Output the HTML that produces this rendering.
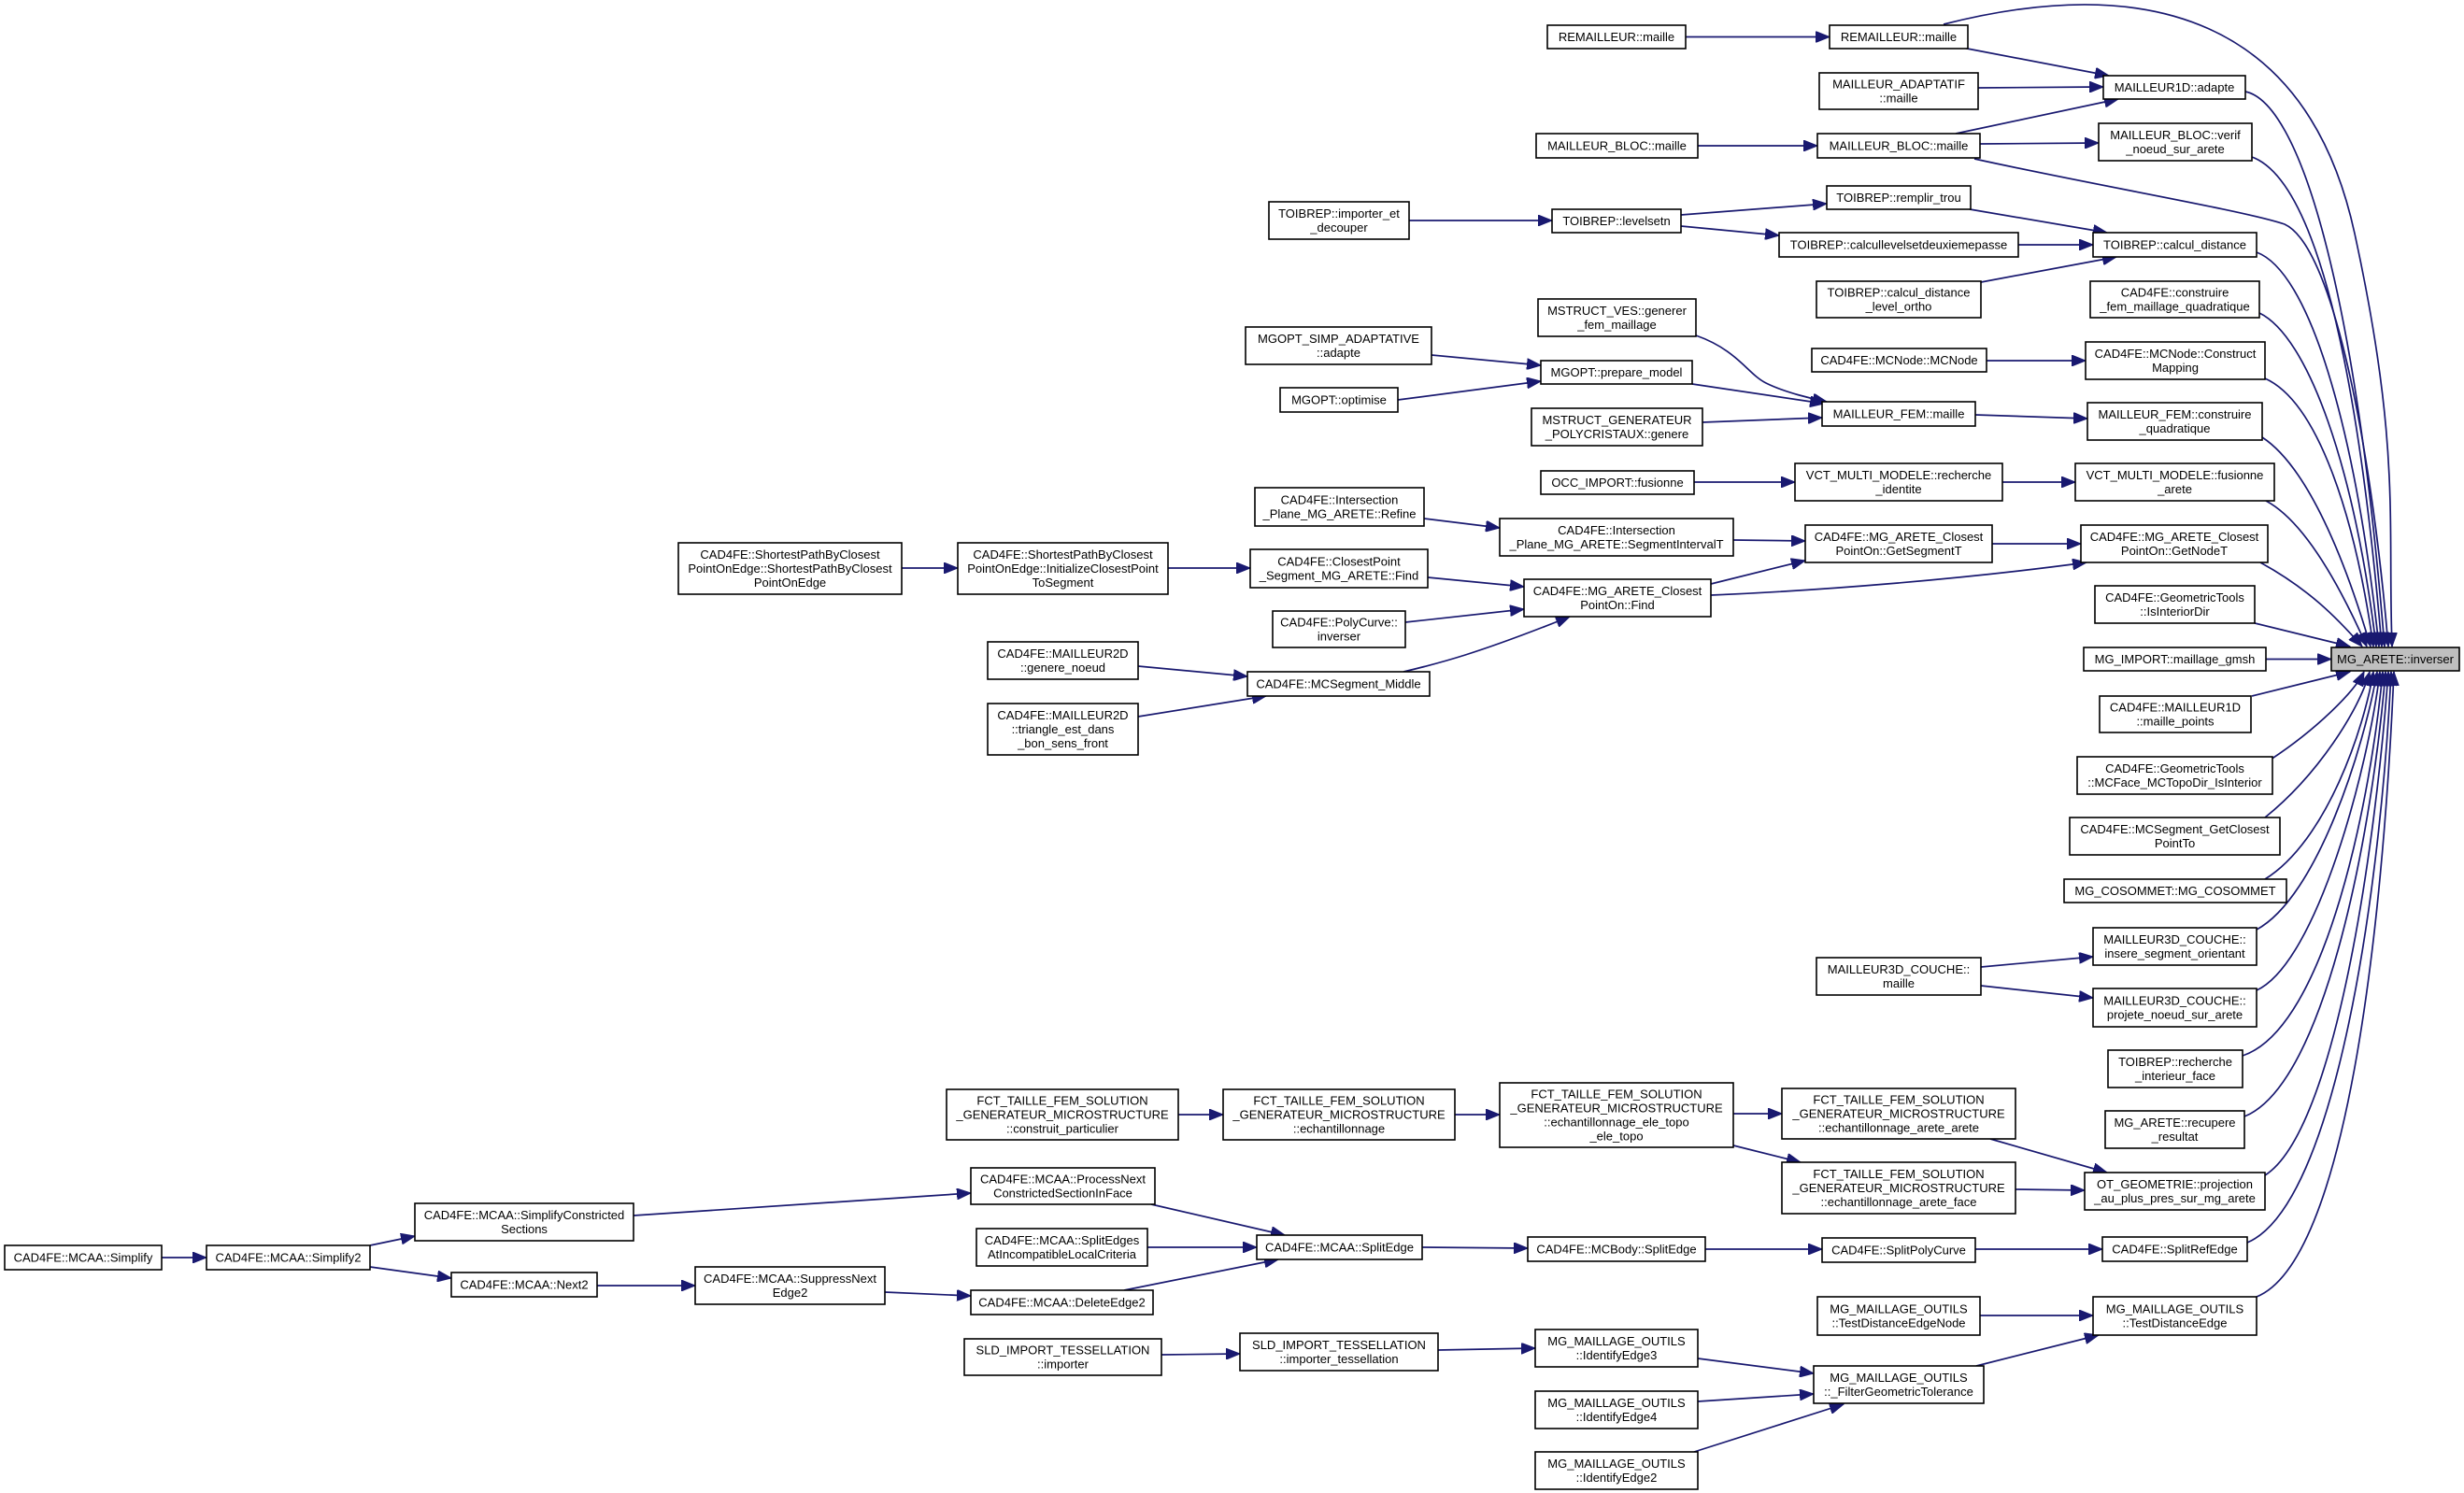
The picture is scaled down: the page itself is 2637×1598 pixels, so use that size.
<!DOCTYPE html>
<html><head><meta charset="utf-8"><style>
html,body{margin:0;padding:0;background:#fff}
svg{display:block}
text{font-family:"Liberation Sans",Arial,sans-serif;font-size:13px;fill:#000;text-anchor:middle}
.n{fill:#fff;stroke:#000;stroke-width:1.6}
.e{fill:none;stroke:#191970;stroke-width:1.7;marker-end:url(#a)}
</style></head><body>
<svg width="2637" height="1598" viewBox="0 0 2637 1598" xmlns="http://www.w3.org/2000/svg">
<defs><marker id="a" markerUnits="userSpaceOnUse" markerWidth="16" markerHeight="12" refX="15" refY="6" orient="auto"><path d="M0,0 L15,6 L0,12 z" fill="#191970" stroke="#191970"/></marker></defs>

<!-- edges -->
<path class="e" d="M1804,39.5 L1958,39.5"/>
<path class="e" d="M2100,51 L2257,81"/>
<path class="e" d="M2080,26 C2300,-30 2470,20 2520,250 S2555,560 2560,692"/>
<path class="e" d="M2117,94 L2251,93"/>
<path class="e" d="M2093,143 L2267,106"/>
<path class="e" d="M1817,156 L1945,156"/>
<path class="e" d="M2119,154 L2246,153"/>
<path class="e" d="M2113,170 C2250,200 2400,225 2445,240 C2500,265 2540,500 2556,692"/>
<path class="e" d="M2403,98 C2460,110 2520,300 2552,692"/>
<path class="e" d="M2410,168 C2470,190 2520,350 2549,692"/>
<path class="e" d="M1508,236 L1661,236"/>
<path class="e" d="M1799,230 L1955,218"/>
<path class="e" d="M1799,242 L1904,252"/>
<path class="e" d="M2108,224 L2255,249"/>
<path class="e" d="M2160,262 L2240,262"/>
<path class="e" d="M2120,302 L2265,275"/>
<path class="e" d="M2415,270 C2470,290 2520,450 2546,692"/>
<path class="e" d="M2418,335 C2470,360 2520,500 2543,692"/>
<path class="e" d="M1815,359 C1860,375 1870,400 1890,410 C1910,420 1940,427 1955,430"/>
<path class="e" d="M1532,380 L1649,391"/>
<path class="e" d="M1496,428 L1649,408"/>
<path class="e" d="M1811,411 L1952,432"/>
<path class="e" d="M1822,452 L1950,447"/>
<path class="e" d="M2114,444 L2234,448"/>
<path class="e" d="M2126,386 L2232,386"/>
<path class="e" d="M2424,405 C2480,430 2520,550 2540,692"/>
<path class="e" d="M2421,468 C2470,500 2510,600 2537,692"/>
<path class="e" d="M1813,516 L1921,516"/>
<path class="e" d="M2143,516 L2221,516"/>
<path class="e" d="M2425,536 C2470,560 2510,640 2533,692"/>
<path class="e" d="M1524,555 L1605,565"/>
<path class="e" d="M965,608 L1025,608"/>
<path class="e" d="M1250,608 L1338,608"/>
<path class="e" d="M1855,578 L1932,579"/>
<path class="e" d="M1528,618 L1631,628"/>
<path class="e" d="M1504,666 L1631,652"/>
<path class="e" d="M1502,719 C1540,710 1580,700 1680,660"/>
<path class="e" d="M1831,625 L1932,600"/>
<path class="e" d="M1831,637 C1950,632 2100,620 2233,602"/>
<path class="e" d="M2132,582 L2227,582"/>
<path class="e" d="M2419,602 C2470,630 2500,660 2528,692"/>
<path class="e" d="M1218,713 L1335,724"/>
<path class="e" d="M1218,767 L1355,745"/>
<path class="e" d="M2413,667 L2515,692"/>
<path class="e" d="M2425,705.5 L2495,705.5"/>
<path class="e" d="M2410,745 L2515,719"/>
<path class="e" d="M2430,813 C2480,780 2520,740 2530,719"/>
<path class="e" d="M2424,875 C2480,830 2525,760 2536,719"/>
<path class="e" d="M2424,941 C2490,900 2530,780 2540,719"/>
<path class="e" d="M2415,995 C2480,960 2530,800 2544,719"/>
<path class="e" d="M2415,1060 C2480,1030 2535,820 2547,719"/>
<path class="e" d="M2400,1130 C2490,1100 2538,850 2550,719"/>
<path class="e" d="M2402,1195 C2490,1160 2540,880 2553,719"/>
<path class="e" d="M2424,1258 C2500,1210 2543,900 2556,719"/>
<path class="e" d="M2405,1330 C2500,1290 2548,950 2559,719"/>
<path class="e" d="M2415,1388 C2510,1350 2550,1000 2562,719"/>
<path class="e" d="M2120,1035 L2240,1024"/>
<path class="e" d="M2120,1055 L2240,1068"/>
<path class="e" d="M1261,1193 L1309,1193"/>
<path class="e" d="M1557,1193 L1605,1193"/>
<path class="e" d="M1855,1192 L1907,1192"/>
<path class="e" d="M1855,1226 L1927,1244"/>
<path class="e" d="M2130,1219 L2255,1255"/>
<path class="e" d="M2157,1273 L2231,1274"/>
<path class="e" d="M173,1346 L221,1346"/>
<path class="e" d="M396,1333 L444,1323"/>
<path class="e" d="M396,1356 L483,1368"/>
<path class="e" d="M678,1301 L1039,1277"/>
<path class="e" d="M639,1376 L744,1376"/>
<path class="e" d="M947,1383 L1039,1387"/>
<path class="e" d="M1232,1289 L1375,1322"/>
<path class="e" d="M1228,1335 L1345,1335"/>
<path class="e" d="M1203,1381 L1368,1348"/>
<path class="e" d="M1521,1335 L1635,1336"/>
<path class="e" d="M1825,1337 L1950,1337"/>
<path class="e" d="M2114,1337 L2250,1337"/>
<path class="e" d="M1243,1450 L1327,1449"/>
<path class="e" d="M1539,1445 L1643,1443"/>
<path class="e" d="M1817,1454 L1941,1470"/>
<path class="e" d="M1817,1500 L1941,1492"/>
<path class="e" d="M1813,1554 L1973,1503"/>
<path class="e" d="M2119,1408 L2240,1408"/>
<path class="e" d="M2115,1462 L2246,1429"/>

<!-- nodes -->
<rect class="n" x="1656" y="27" width="148" height="25"/><text x="1730" y="44">REMAILLEUR::maille</text>
<rect class="n" x="1958" y="27" width="148" height="25"/><text x="2032" y="44">REMAILLEUR::maille</text>
<rect class="n" x="1947" y="78" width="170" height="39"/><text x="2032" y="94.5">MAILLEUR_ADAPTATIF</text><text x="2032" y="109.5">::maille</text>
<rect class="n" x="2251" y="81" width="152" height="25"/><text x="2327" y="98">MAILLEUR1D::adapte</text>
<rect class="n" x="1644" y="143" width="173" height="26"/><text x="1730.5" y="160.5">MAILLEUR_BLOC::maille</text>
<rect class="n" x="1945" y="143" width="174" height="26"/><text x="2032" y="160.5">MAILLEUR_BLOC::maille</text>
<rect class="n" x="2246" y="132" width="164" height="40"/><text x="2328" y="149">MAILLEUR_BLOC::verif</text><text x="2328" y="164">_noeud_sur_arete</text>
<rect class="n" x="1955" y="199" width="154" height="25"/><text x="2032" y="216">TOIBREP::remplir_trou</text>
<rect class="n" x="1661" y="224" width="138" height="25"/><text x="1730" y="241">TOIBREP::levelsetn</text>
<rect class="n" x="1904" y="249" width="256" height="26"/><text x="2032" y="266.5">TOIBREP::calcullevelsetdeuxiemepasse</text>
<rect class="n" x="2240" y="249" width="175" height="26"/><text x="2327.5" y="266.5">TOIBREP::calcul_distance</text>
<rect class="n" x="1944" y="301" width="176" height="39"/><text x="2032" y="317.5">TOIBREP::calcul_distance</text><text x="2032" y="332.5">_level_ortho</text>
<rect class="n" x="2237" y="301" width="181" height="39"/><text x="2327.5" y="317.5">CAD4FE::construire</text><text x="2327.5" y="332.5">_fem_maillage_quadratique</text>
<rect class="n" x="1358" y="216" width="150" height="40"/><text x="1433" y="233">TOIBREP::importer_et</text><text x="1433" y="248">_decouper</text>
<rect class="n" x="1646" y="320" width="169" height="40"/><text x="1730.5" y="337">MSTRUCT_VES::generer</text><text x="1730.5" y="352">_fem_maillage</text>
<rect class="n" x="1939" y="373" width="187" height="25"/><text x="2032.5" y="390">CAD4FE::MCNode::MCNode</text>
<rect class="n" x="2232" y="366" width="192" height="40"/><text x="2328" y="383">CAD4FE::MCNode::Construct</text><text x="2328" y="398">Mapping</text>
<rect class="n" x="1333" y="350" width="199" height="40"/><text x="1432.5" y="367">MGOPT_SIMP_ADAPTATIVE</text><text x="1432.5" y="382">::adapte</text>
<rect class="n" x="1649" y="386" width="162" height="25"/><text x="1730" y="403">MGOPT::prepare_model</text>
<rect class="n" x="1370" y="415" width="126" height="26"/><text x="1433" y="432.5">MGOPT::optimise</text>
<rect class="n" x="1950" y="430" width="164" height="26"/><text x="2032" y="447.5">MAILLEUR_FEM::maille</text>
<rect class="n" x="1639" y="437" width="183" height="40"/><text x="1730.5" y="454">MSTRUCT_GENERATEUR</text><text x="1730.5" y="469">_POLYCRISTAUX::genere</text>
<rect class="n" x="2234" y="431" width="187" height="40"/><text x="2327.5" y="448">MAILLEUR_FEM::construire</text><text x="2327.5" y="463">_quadratique</text>
<rect class="n" x="1649" y="504" width="164" height="25"/><text x="1731" y="521">OCC_IMPORT::fusionne</text>
<rect class="n" x="1921" y="496" width="222" height="40"/><text x="2032" y="513">VCT_MULTI_MODELE::recherche</text><text x="2032" y="528">_identite</text>
<rect class="n" x="2221" y="496" width="213" height="40"/><text x="2327.5" y="513">VCT_MULTI_MODELE::fusionne</text><text x="2327.5" y="528">_arete</text>
<rect class="n" x="1343" y="522" width="181" height="41"/><text x="1433.5" y="539.5">CAD4FE::Intersection</text><text x="1433.5" y="554.5">_Plane_MG_ARETE::Refine</text>
<rect class="n" x="1605" y="555" width="250" height="40"/><text x="1730" y="572">CAD4FE::Intersection</text><text x="1730" y="587">_Plane_MG_ARETE::SegmentIntervalT</text>
<rect class="n" x="1932" y="562" width="200" height="40"/><text x="2032" y="579">CAD4FE::MG_ARETE_Closest</text><text x="2032" y="594">PointOn::GetSegmentT</text>
<rect class="n" x="2227" y="562" width="200" height="40"/><text x="2327" y="579">CAD4FE::MG_ARETE_Closest</text><text x="2327" y="594">PointOn::GetNodeT</text>
<rect class="n" x="726" y="581" width="239" height="55"/><text x="845.5" y="598">CAD4FE::ShortestPathByClosest</text><text x="845.5" y="613">PointOnEdge::ShortestPathByClosest</text><text x="845.5" y="628">PointOnEdge</text>
<rect class="n" x="1025" y="581" width="225" height="55"/><text x="1137.5" y="598">CAD4FE::ShortestPathByClosest</text><text x="1137.5" y="613">PointOnEdge::InitializeClosestPoint</text><text x="1137.5" y="628">ToSegment</text>
<rect class="n" x="1338" y="588" width="190" height="41"/><text x="1433" y="605.5">CAD4FE::ClosestPoint</text><text x="1433" y="620.5">_Segment_MG_ARETE::Find</text>
<rect class="n" x="1631" y="620" width="200" height="40"/><text x="1731" y="637">CAD4FE::MG_ARETE_Closest</text><text x="1731" y="652">PointOn::Find</text>
<rect class="n" x="2242" y="627" width="171" height="40"/><text x="2327.5" y="644">CAD4FE::GeometricTools</text><text x="2327.5" y="659">::IsInteriorDir</text>
<rect class="n" x="1362" y="654" width="142" height="39"/><text x="1433" y="670.5">CAD4FE::PolyCurve::</text><text x="1433" y="685.5">inverser</text>
<rect class="n" x="1057" y="687" width="161" height="40"/><text x="1137.5" y="704">CAD4FE::MAILLEUR2D</text><text x="1137.5" y="719">::genere_noeud</text>
<rect class="n" x="2230" y="693" width="195" height="25"/><text x="2327.5" y="710">MG_IMPORT::maillage_gmsh</text>
<rect x="2495" y="693" width="137" height="25" fill="#bfbfbf" stroke="#000" stroke-width="1.6"/><text x="2563.5" y="710">MG_ARETE::inverser</text>
<rect class="n" x="1335" y="719" width="195" height="26"/><text x="1432.5" y="736.5">CAD4FE::MCSegment_Middle</text>
<rect class="n" x="1057" y="753" width="161" height="55"/><text x="1137.5" y="770">CAD4FE::MAILLEUR2D</text><text x="1137.5" y="785">::triangle_est_dans</text><text x="1137.5" y="800">_bon_sens_front</text>
<rect class="n" x="2247" y="745" width="162" height="39"/><text x="2328" y="761.5">CAD4FE::MAILLEUR1D</text><text x="2328" y="776.5">::maille_points</text>
<rect class="n" x="2223" y="810" width="209" height="40"/><text x="2327.5" y="827">CAD4FE::GeometricTools</text><text x="2327.5" y="842">::MCFace_MCTopoDir_IsInterior</text>
<rect class="n" x="2215" y="875" width="225" height="40"/><text x="2327.5" y="892">CAD4FE::MCSegment_GetClosest</text><text x="2327.5" y="907">PointTo</text>
<rect class="n" x="2209" y="941" width="238" height="25"/><text x="2328" y="958">MG_COSOMMET::MG_COSOMMET</text>
<rect class="n" x="2240" y="993" width="175" height="40"/><text x="2327.5" y="1010">MAILLEUR3D_COUCHE::</text><text x="2327.5" y="1025">insere_segment_orientant</text>
<rect class="n" x="1944" y="1025" width="176" height="40"/><text x="2032" y="1042">MAILLEUR3D_COUCHE::</text><text x="2032" y="1057">maille</text>
<rect class="n" x="2240" y="1058" width="175" height="41"/><text x="2327.5" y="1075.5">MAILLEUR3D_COUCHE::</text><text x="2327.5" y="1090.5">projete_noeud_sur_arete</text>
<rect class="n" x="2256" y="1124" width="144" height="40"/><text x="2328" y="1141">TOIBREP::recherche</text><text x="2328" y="1156">_interieur_face</text>
<rect class="n" x="1013" y="1166" width="248" height="54"/><text x="1137" y="1182.5">FCT_TAILLE_FEM_SOLUTION</text><text x="1137" y="1197.5">_GENERATEUR_MICROSTRUCTURE</text><text x="1137" y="1212.5">::construit_particulier</text>
<rect class="n" x="1309" y="1166" width="248" height="54"/><text x="1433" y="1182.5">FCT_TAILLE_FEM_SOLUTION</text><text x="1433" y="1197.5">_GENERATEUR_MICROSTRUCTURE</text><text x="1433" y="1212.5">::echantillonnage</text>
<rect class="n" x="1605" y="1159" width="250" height="69"/><text x="1730" y="1175.5">FCT_TAILLE_FEM_SOLUTION</text><text x="1730" y="1190.5">_GENERATEUR_MICROSTRUCTURE</text><text x="1730" y="1205.5">::echantillonnage_ele_topo</text><text x="1730" y="1220.5">_ele_topo</text>
<rect class="n" x="2253" y="1189" width="149" height="40"/><text x="2327.5" y="1206">MG_ARETE::recupere</text><text x="2327.5" y="1221">_resultat</text>
<rect class="n" x="1907" y="1165" width="250" height="54"/><text x="2032" y="1181.5">FCT_TAILLE_FEM_SOLUTION</text><text x="2032" y="1196.5">_GENERATEUR_MICROSTRUCTURE</text><text x="2032" y="1211.5">::echantillonnage_arete_arete</text>
<rect class="n" x="1039" y="1250" width="197" height="39"/><text x="1137.5" y="1266.5">CAD4FE::MCAA::ProcessNext</text><text x="1137.5" y="1281.5">ConstrictedSectionInFace</text>
<rect class="n" x="1907" y="1244" width="250" height="55"/><text x="2032" y="1261">FCT_TAILLE_FEM_SOLUTION</text><text x="2032" y="1276">_GENERATEUR_MICROSTRUCTURE</text><text x="2032" y="1291">::echantillonnage_arete_face</text>
<rect class="n" x="2231" y="1255" width="193" height="40"/><text x="2327.5" y="1272">OT_GEOMETRIE::projection</text><text x="2327.5" y="1287">_au_plus_pres_sur_mg_arete</text>
<rect class="n" x="444" y="1288" width="234" height="40"/><text x="561" y="1305">CAD4FE::MCAA::SimplifyConstricted</text><text x="561" y="1320">Sections</text>
<rect class="n" x="1045" y="1315" width="183" height="40"/><text x="1136.5" y="1332">CAD4FE::MCAA::SplitEdges</text><text x="1136.5" y="1347">AtIncompatibleLocalCriteria</text>
<rect class="n" x="1345" y="1322" width="177" height="26"/><text x="1433.5" y="1339.5">CAD4FE::MCAA::SplitEdge</text>
<rect class="n" x="1635" y="1324" width="190" height="26"/><text x="1730" y="1341.5">CAD4FE::MCBody::SplitEdge</text>
<rect class="n" x="1950" y="1325" width="164" height="26"/><text x="2032" y="1342.5">CAD4FE::SplitPolyCurve</text>
<rect class="n" x="2250" y="1324" width="155" height="26"/><text x="2327.5" y="1341.5">CAD4FE::SplitRefEdge</text>
<rect class="n" x="5" y="1333" width="168" height="26"/><text x="89" y="1350.5">CAD4FE::MCAA::Simplify</text>
<rect class="n" x="221" y="1333" width="175" height="26"/><text x="308.5" y="1350.5">CAD4FE::MCAA::Simplify2</text>
<rect class="n" x="744" y="1356" width="203" height="40"/><text x="845.5" y="1373">CAD4FE::MCAA::SuppressNext</text><text x="845.5" y="1388">Edge2</text>
<rect class="n" x="483" y="1362" width="156" height="26"/><text x="561" y="1379.5">CAD4FE::MCAA::Next2</text>
<rect class="n" x="1039" y="1381" width="195" height="26"/><text x="1136.5" y="1398.5">CAD4FE::MCAA::DeleteEdge2</text>
<rect class="n" x="1945" y="1388" width="174" height="41"/><text x="2032" y="1405.5">MG_MAILLAGE_OUTILS</text><text x="2032" y="1420.5">::TestDistanceEdgeNode</text>
<rect class="n" x="2240" y="1388" width="175" height="41"/><text x="2327.5" y="1405.5">MG_MAILLAGE_OUTILS</text><text x="2327.5" y="1420.5">::TestDistanceEdge</text>
<rect class="n" x="1643" y="1423" width="174" height="40"/><text x="1730" y="1440">MG_MAILLAGE_OUTILS</text><text x="1730" y="1455">::IdentifyEdge3</text>
<rect class="n" x="1032" y="1433" width="211" height="39"/><text x="1137.5" y="1449.5">SLD_IMPORT_TESSELLATION</text><text x="1137.5" y="1464.5">::importer</text>
<rect class="n" x="1327" y="1427" width="212" height="40"/><text x="1433" y="1444">SLD_IMPORT_TESSELLATION</text><text x="1433" y="1459">::importer_tessellation</text>
<rect class="n" x="1941" y="1462" width="182" height="40"/><text x="2032" y="1479">MG_MAILLAGE_OUTILS</text><text x="2032" y="1494">::_FilterGeometricTolerance</text>
<rect class="n" x="1643" y="1489" width="174" height="40"/><text x="1730" y="1506">MG_MAILLAGE_OUTILS</text><text x="1730" y="1521">::IdentifyEdge4</text>
<rect class="n" x="1643" y="1554" width="174" height="40"/><text x="1730" y="1571">MG_MAILLAGE_OUTILS</text><text x="1730" y="1586">::IdentifyEdge2</text>
</svg>
</body></html>
